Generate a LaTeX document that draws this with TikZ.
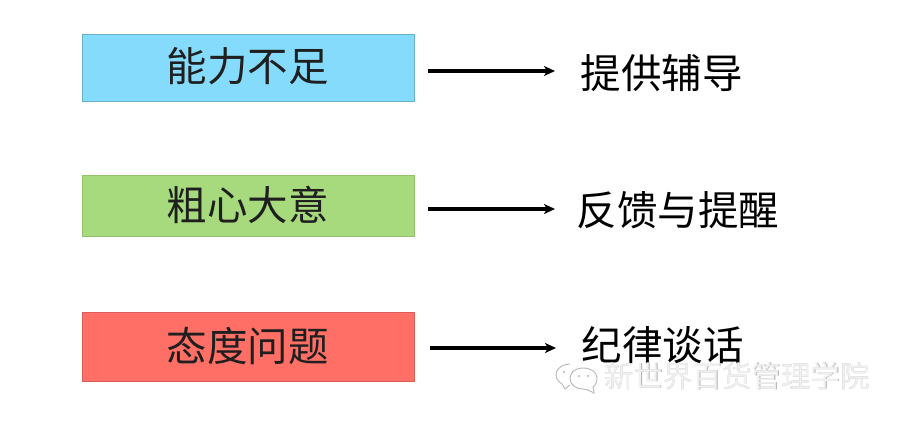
\documentclass[tikz,border=0pt]{standalone}
\usepackage{fontspec}
\setmainfont{Noto Sans CJK SC}
\usetikzlibrary{arrows.meta}
\definecolor{cblue}{HTML}{85DBFC}
\definecolor{cgreen}{HTML}{A6DA7C}
\definecolor{cred}{HTML}{FF6F66}
\tikzset{
  x=1pt,y=-1pt,
  box/.style={draw=#1,line width=0.8pt,anchor=north west,inner sep=0pt},
  boxlabel/.style={font=\fontsize{40.5}{41}\selectfont,text=black!88,inner sep=0pt},
  action/.style={font=\fontsize{40.5}{41}\selectfont,text=black,inner sep=0pt,anchor=west},
  conn/.style={line width=3.2pt,-{Stealth[length=11pt,width=10pt,inset=3pt]}},
  mark text/.style={font=\fontsize{29.5}{30}\selectfont,inner sep=0pt,anchor=west},
  bubble/.style={draw=black!28,line width=0.9pt,fill=white},
  dots/.style={fill=black!28,draw=none}
}
\begin{document}
\begin{tikzpicture}
\useasboundingbox (0,0) rectangle (900,421);
\fill[white] (0,0) rectangle (900,421);
% boxes
\node[box=cblue!80!black,fill=cblue,minimum width=332pt,minimum height=67pt] (b1) at (82,33.5) {};
\node[box=cgreen!88!black,fill=cgreen,minimum width=332pt,minimum height=61pt] (b2) at (82,175) {};
\node[box=cred!85!black,fill=cred,minimum width=332pt,minimum height=69pt] (b3) at (82,312) {};
\node[boxlabel] (l1) at (247.5,66) {能力不足};
\node[boxlabel] (l2) at (247.5,205) {粗心大意};
\node[boxlabel] (l3) at (247.5,346) {态度问题};
% actions
\node[action] (t1) at (580.5,73) {提供辅导};
\node[action] (t2) at (576.5,210) {反馈与提醒};
\node[action] (t3) at (581.5,345) {纪律谈话};
% connectors
\coordinate (s1) at (428,71);
\coordinate (s2) at (428,209);
\coordinate (s3) at (430,348);
\coordinate (e1) at (555,71);
\coordinate (e2) at (555,209);
\coordinate (e3) at (556,348);
\draw[conn] (s1) -- (e1);
\draw[conn] (s2) -- (e2);
\draw[conn] (s3) -- (e3);
% watermark
\begin{scope}[shift={(582,376)}]
\draw[bubble] (-12,-12) .. controls (-16,-12) and (-26,-10) .. (-26,-1) .. controls (-26,3) and (-23,6) .. (-20,8) -- (-17,13) -- (-12,9);
\fill[dots] (-18,-4) circle (1.2); \fill[dots] (-9,-4) circle (1.2);
\draw[bubble] (1,-8) .. controls (-8,-8) and (-12,-2) .. (-12,2) .. controls (-12,9) and (-6,13) .. (1,13) -- (6,14) -- (12,17) -- (11,11) .. controls (14,9) and (15,5) .. (15,2) .. controls (15,-4) and (9,-8) .. (1,-8) -- cycle;
\fill[dots] (-3,0) circle (1.1); \fill[dots] (6,0) circle (1.1);
\end{scope}
\node[mark text,text=black!30] (w0) at (604.5,376.5) {新世界百货管理学院};
\node[mark text,text=black!6] (w) at (604,376) {新世界百货管理学院};
\end{tikzpicture}
\end{document}
